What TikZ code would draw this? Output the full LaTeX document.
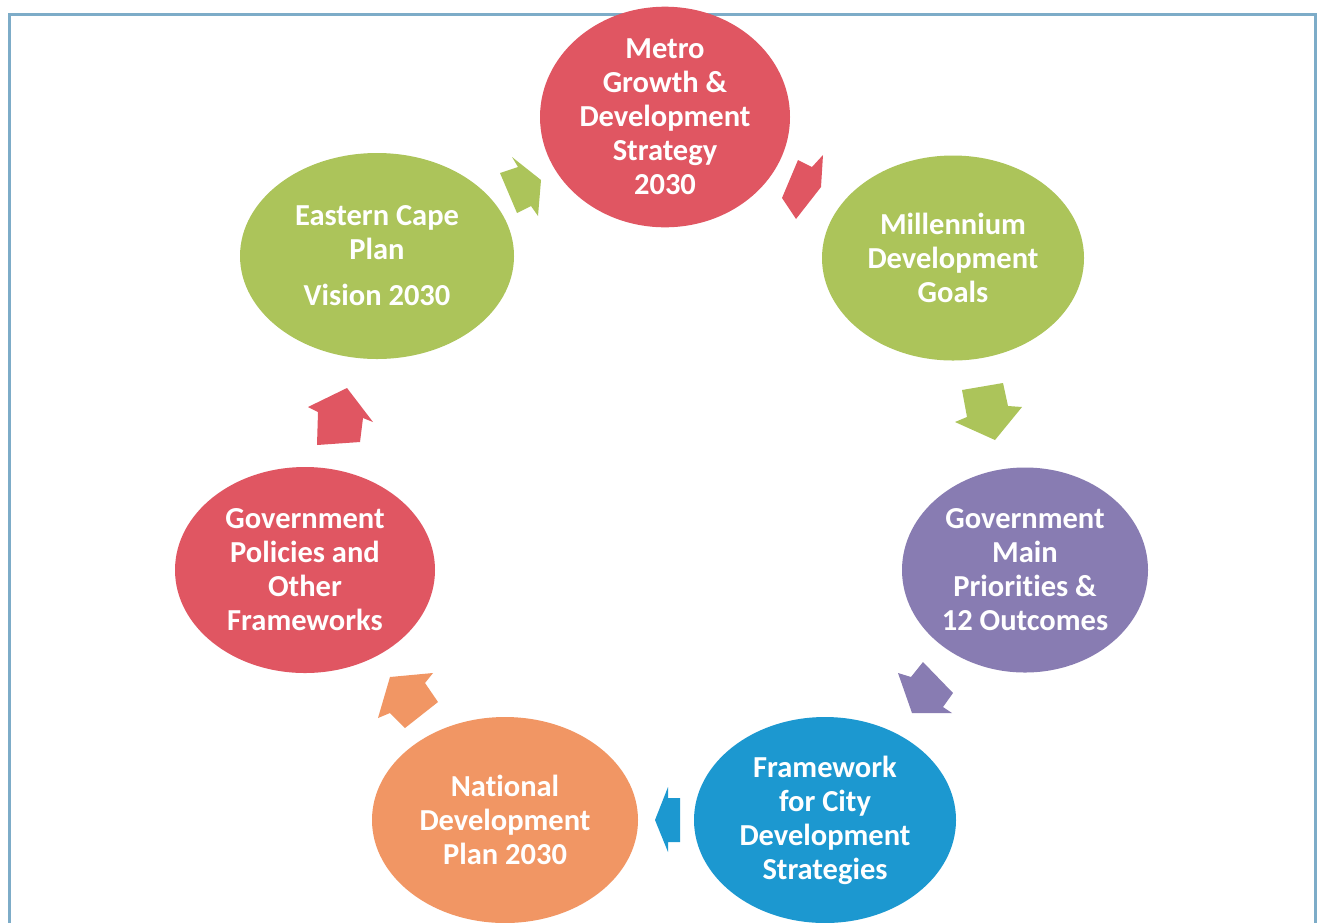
\documentclass[tikz,border=0pt]{standalone}
\usepackage{fontspec}
\setmainfont{Carlito}[Ligatures={NoCommon}]
\usetikzlibrary{shapes.geometric}
\definecolor{cred}{RGB}{224,86,98}
\definecolor{cgreen}{RGB}{172,196,90}
\definecolor{cpurple}{RGB}{136,124,178}
\definecolor{cblue}{RGB}{28,152,208}
\definecolor{corange}{RGB}{241,150,100}
\definecolor{cframe}{RGB}{125,172,200}
\tikzset{
  bubble/.style={ellipse, inner sep=0pt, text=white, align=center,
    font=\fontsize{30.5}{34}\selectfont\bfseries}
}
\begin{document}
\begin{tikzpicture}[x=1pt,y=-1pt]
\useasboundingbox (0,0) rectangle (1321,922);
\fill[white] (0,0) rectangle (1321,922);
\draw[cframe, line width=3pt] (9,930) -- (9,14) -- (1315,14) -- (1315,930);
% ellipses
\node[bubble, fill=cred, minimum width=250pt, minimum height=198pt] (metro) at (665,117)
  {Metro\\Growth \&\\Development\\Strategy\\2030};
\node[bubble, fill=cgreen, minimum width=262pt, minimum height=205pt] (mdg) at (953,258)
  {Millennium\\Development\\Goals};
\node[bubble, fill=cpurple, minimum width=246pt, minimum height=205pt] (gmp) at (1025,570)
  {Government\\Main\\Priorities \&\\12 Outcomes};
\node[bubble, fill=cblue, minimum width=262pt, minimum height=206pt] (fcds) at (825,820)
  {Framework\\for City\\Development\\Strategies};
\node[bubble, fill=corange, minimum width=266pt, minimum height=206pt] (ndp) at (505,820)
  {National\\Development\\Plan 2030};
\node[bubble, fill=cred, minimum width=260pt, minimum height=206pt] (gpf) at (305,570)
  {Government\\Policies and\\Other\\Frameworks};
\node[bubble, fill=cgreen, minimum width=274pt, minimum height=206pt] (ecp) at (377,256)
  {Eastern Cape\\Plan\\[12pt]Vision 2030};
% block arrows
\fill[cgreen] (500,173) -- (518,167) -- (512,157) -- (541,180) -- (538,216) -- (531,206) -- (517,213) -- cycle;
\fill[cred] (798,160) -- (812,167) -- (823,155) -- (821,187) -- (796,219) -- (782,198) -- cycle;
\fill[cgreen] (962,390) -- (1003,383) -- (1008,406) -- (1022,407) -- (995,440) -- (955,422) -- (967,417) -- cycle;
\fill[cpurple] (898,673) -- (911,677) -- (923,662) -- (953,693) -- (943,707) -- (952,713) -- (912,713) -- cycle;
\fill[cblue] (680,798) -- (668,798) -- (668,787) -- (655,820) -- (668,852) -- (668,842) -- (680,842) -- cycle;
\fill[corange] (390,677) -- (433,673) -- (425,683) -- (438,702) -- (405,728) -- (390,713) -- (378,718) -- cycle;
\fill[cred] (347,388) -- (373,422) -- (363,418) -- (360,442) -- (317,445) -- (318,412) -- (308,407) -- cycle;
\end{tikzpicture}
\end{document}
